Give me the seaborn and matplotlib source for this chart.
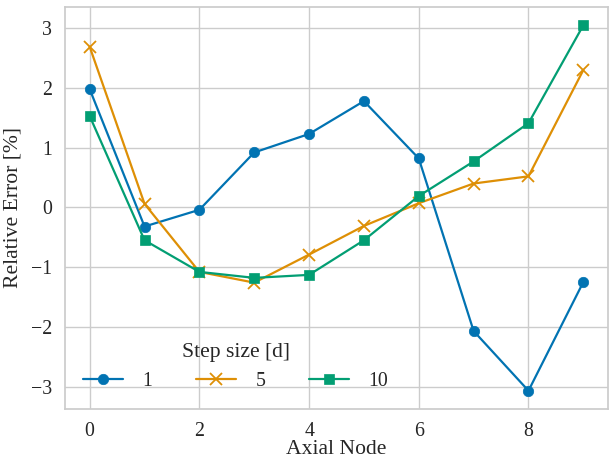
import numpy as np
import pandas as pd
import matplotlib
matplotlib.use("Agg")
import matplotlib.pyplot as plt
import seaborn as sns

nodes = list(range(10))
step_sizes = ["1", "5", "10"]
err_1 = [1.98, -0.32, -0.04, 0.92, 1.23, 1.78, 0.82, -2.07, -3.07, -1.25]
err_5 = [2.69, 0.06, -1.08, -1.26, -0.79, -0.31, 0.07, 0.40, 0.52, 2.30]
err_10 = [1.53, -0.55, -1.08, -1.18, -1.13, -0.55, 0.19, 0.77, 1.41, 3.05]
markers = ["o", "x", "s"]

sns.set_theme(style="whitegrid", palette="colorblind", font_scale=1.3)
plt.rcParams["font.family"] = ["Liberation Serif", "DejaVu Serif"]
plt.rcParams["axes.unicode_minus"] = True
colors = sns.color_palette("colorblind", 3)

fig = plt.figure(figsize=(6.09, 4.63), dpi=100)
ax = fig.add_axes([65 / 609, 1 - 409 / 463, 543 / 609, 402 / 463])
for label, vals, m, c in zip(step_sizes, [err_1, err_5, err_10], markers, colors):
    sns.lineplot(x=nodes, y=vals, marker=m, color=c, label=label, ax=ax,
                 markersize=7.5 if m != "x" else 8, linewidth=1.6,
                 markeredgecolor=c, markeredgewidth=1.3 if m == "x" else 0.5)
ax.set_xlabel("Axial Node", labelpad=0)
ax.set_ylabel("Relative Error [%]", labelpad=6)
ax.tick_params(axis="x", pad=3)
ax.set_xticks([0, 2, 4, 6, 8])
ax.set_yticks([-3, -2, -1, 0, 1, 2, 3])
ax.legend(title="Step size [d]", ncol=3, loc="lower left", frameon=False,
          columnspacing=2.2, handletextpad=1.0, bbox_to_anchor=(0.0, 0.0))
fig.savefig("out.png", dpi=100)
